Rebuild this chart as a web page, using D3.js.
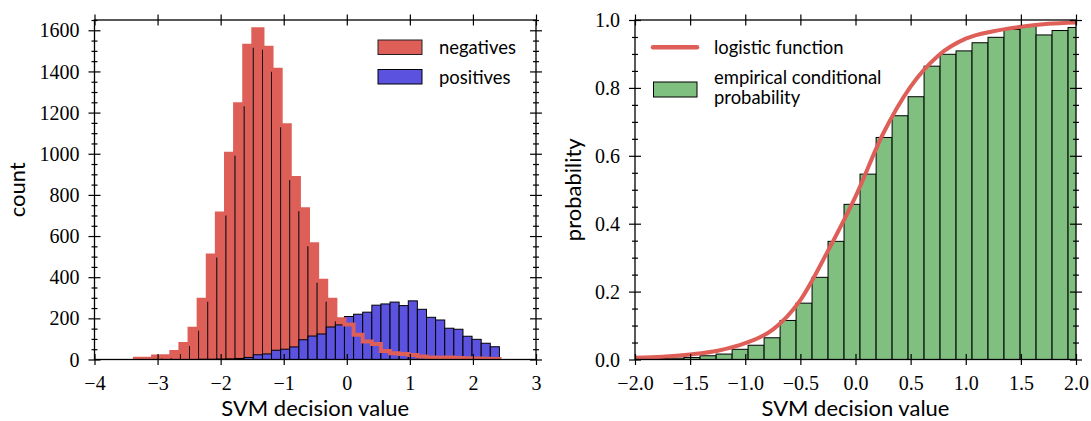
<!DOCTYPE html>
<html><head><meta charset="utf-8">
<script src="https://cdn.jsdelivr.net/npm/d3@7"></script>
<style>body{margin:0;background:#fff}svg{display:block}</style>
</head><body>
<svg id="chart" width="1091" height="421"></svg>
<script>
// ---------- data ----------
const histBinEdges = [-3.360,-3.216,-3.071,-2.927,-2.782,-2.638,-2.493,-2.349,-2.204,-2.060,-1.915,-1.771,-1.626,-1.482,-1.337,-1.193,-1.048,-0.904,-0.759,-0.615,-0.470,-0.326,-0.181,-0.037,0.108,0.252,0.397,0.541,0.686,0.830,0.975,1.119,1.264,1.408,1.553,1.697,1.842,1.986,2.131,2.275,2.420];
const negativeCounts = [4,4,14,16,36,75,150,290,505,710,1000,1240,1525,1605,1515,1408,1138,882,730,560,383,290,196,170,120,87,75,41,30,27,22,15,10,8,10,7,6,5,4,3];
const positiveCounts = [0,0,0,0,0,0,0,1,1,2,3,5,10,23,27,45,50,61,96,114,124,158,168,209,220,230,264,270,279,262,285,244,205,192,152,147,113,98,79,62];
const probBinEdges = [-1.990,-1.845,-1.700,-1.555,-1.410,-1.264,-1.119,-0.974,-0.829,-0.684,-0.539,-0.394,-0.249,-0.104,0.041,0.187,0.332,0.477,0.622,0.767,0.912,1.057,1.202,1.347,1.493,1.638,1.783,1.928,2.073];
const empiricalProb = [0.002,0.003,0.004,0.006,0.011,0.016,0.030,0.042,0.064,0.115,0.166,0.242,0.348,0.457,0.546,0.654,0.718,0.774,0.864,0.899,0.909,0.933,0.949,0.972,0.981,0.956,0.969,0.978];
const logisticX = [-2.0,-1.75,-1.5,-1.25,-1.0,-0.75,-0.5,-0.25,0.0,0.25,0.5,0.75,1.0,1.25,1.5,1.75,2.0];
const logisticP = [0.005,0.008,0.015,0.026,0.048,0.088,0.175,0.32,0.48,0.665,0.804,0.895,0.945,0.967,0.98,0.989,0.993];
const leftXTicks = [-4,-3,-2,-1,0,1,2,3];
const leftYTicks = [0,200,400,600,800,1000,1200,1400,1600];
const leftYMinor = [50,100,150,250,300,350,450,500,550,650,700,750,850,900,950,1050,1100,1150,1250,1300,1350,1450,1500,1550,1650];
const rightXTicks = [-2,-1.5,-1,-0.5,0,0.5,1,1.5,2];
const rightYTicks = [0,0.2,0.4,0.6,0.8,1.0];
const rightYMinor = [0.05,0.1,0.15,0.25,0.3,0.35,0.45,0.5,0.55,0.65,0.7,0.75,0.85,0.9,0.95];
const legendLeft = ["negatives","positives"];
const legendRight = ["logistic function","empirical conditional","probability"];

// ---------- setup ----------
const RED = "#dd5f58", BLUE = "#5b52df", GREEN = "#7fbf7f";
const SANS = "Lato, 'Open Sans', sans-serif";
const SERIF = "'Liberation Serif', 'DejaVu Serif', serif";
const svg = d3.select("#chart");
svg.append("rect").attr("width",1091).attr("height",421).attr("fill","#fff");

const L = {x0:94.5, x1:536, y0:20, y1:359.5};
const R = {x0:635, x1:1076, y0:20, y1:359.5};
const xL = d3.scaleLinear().domain([-4,3]).range([L.x0,L.x1]);
const yL = d3.scaleLinear().domain([0,1650]).range([L.y1,L.y0]);
const xR = d3.scaleLinear().domain([-2,2]).range([R.x0,R.x1]);
const yR = d3.scaleLinear().domain([0,1]).range([R.y1,R.y0]);

const defs = svg.append("defs");
defs.append("clipPath").attr("id","clipL").append("rect")
  .attr("x",L.x0).attr("y",L.y0).attr("width",L.x1-L.x0).attr("height",L.y1-L.y0);
defs.append("clipPath").attr("id","clipR").append("rect")
  .attr("x",R.x0).attr("y",R.y0).attr("width",R.x1-R.x0).attr("height",R.y1-R.y0);

const minus = s => String(s).replace("-","\u2212");

// ---------- left panel ----------
const gL = svg.append("g").attr("clip-path","url(#clipL)");
const negBins = negativeCounts.map((c,i)=>({x0:histBinEdges[i],x1:histBinEdges[i+1],c}));
const posBins = positiveCounts.map((c,i)=>({x0:histBinEdges[i],x1:histBinEdges[i+1],c})).filter(d=>d.c>0);

gL.selectAll("rect.neg").data(negBins).join("rect").attr("class","neg")
  .attr("x",d=>xL(d.x0)).attr("width",d=>xL(d.x1)-xL(d.x0))
  .attr("y",d=>yL(d.c)).attr("height",d=>yL(0)-yL(d.c))
  .attr("fill",RED).attr("stroke","#111").attr("stroke-width",0.9);

gL.selectAll("rect.pos").data(posBins).join("rect").attr("class","pos")
  .attr("x",d=>xL(d.x0)).attr("width",d=>xL(d.x1)-xL(d.x0))
  .attr("y",d=>yL(d.c)).attr("height",d=>yL(0)-yL(d.c))
  .attr("fill",BLUE).attr("stroke","#000").attr("stroke-width",1);

// negatives outline (step) drawn on top
const stepPts = [[histBinEdges[0],0]];
negativeCounts.forEach((c,i)=>{ stepPts.push([histBinEdges[i],c]); stepPts.push([histBinEdges[i+1],c]); });
stepPts.push([histBinEdges[histBinEdges.length-1],0]);
gL.append("path").datum(stepPts)
  .attr("d", d3.line().x(d=>xL(d[0])).y(d=>yL(d[1])))
  .attr("fill","none").attr("stroke",RED).attr("stroke-width",4).attr("stroke-linejoin","miter");

// ---------- right panel ----------
const gR = svg.append("g").attr("clip-path","url(#clipR)");
const probBins = empiricalProb.map((p,i)=>({x0:probBinEdges[i],x1:probBinEdges[i+1],p}));
gR.selectAll("rect.prob").data(probBins).join("rect").attr("class","prob")
  .attr("x",d=>xR(d.x0)).attr("width",d=>xR(d.x1)-xR(d.x0))
  .attr("y",d=>yR(d.p)).attr("height",d=>yR(0)-yR(d.p))
  .attr("fill",GREEN).attr("stroke","#000").attr("stroke-width",1);
gR.append("path").datum(logisticX.map((x,i)=>[x,logisticP[i]]))
  .attr("d", d3.line().x(d=>xR(d[0])).y(d=>yR(d[1])).curve(d3.curveMonotoneX))
  .attr("fill","none").attr("stroke",RED).attr("stroke-width",4);

// ---------- axes ----------
function tickPair(gen, translate, values, size, fmt) {
  const outer = svg.append("g").attr("transform",translate)
    .call(gen.tickValues(values).tickSize(size).tickSizeOuter(0).tickFormat(fmt || (()=>"")));
  const inner = svg.append("g").attr("transform",translate)
    .call(gen.tickValues(values).tickSize(-size).tickSizeOuter(0).tickFormat(()=>""));
  [outer,inner].forEach(a=>{
    a.select(".domain").remove();
    a.selectAll("line").attr("stroke","#000").attr("stroke-width",1.2);
    a.attr("font-family",null).attr("font-size",null);
  });
  return outer;
}
function frame(P){
  svg.append("rect").attr("x",P.x0).attr("y",P.y0).attr("width",P.x1-P.x0).attr("height",P.y1-P.y0)
    .attr("fill","none").attr("stroke","#000").attr("stroke-width",1.3);
}
function styleLabels(a, kind){
  a.selectAll("text").attr("font-family",SERIF).attr("font-size",20).attr("fill","#000");
  if(kind==="bottom") a.selectAll("text").attr("y",30).attr("dy",0);
  if(kind==="left") a.selectAll("text").attr("x",-15).attr("dy","0.33em");
}

// Left panel axes
styleLabels(tickPair(d3.axisBottom(xL), `translate(0,${L.y1})`, leftXTicks, 5.5, d=>minus(d)), "bottom");
tickPair(d3.axisTop(xL), `translate(0,${L.y0})`, leftXTicks, 5.5);
styleLabels(tickPair(d3.axisLeft(yL), `translate(${L.x0},0)`, leftYTicks, 6, d=>d), "left");
tickPair(d3.axisLeft(yL), `translate(${L.x0},0)`, leftYMinor, 3);
tickPair(d3.axisRight(yL), `translate(${L.x1},0)`, leftYTicks, 6);
tickPair(d3.axisRight(yL), `translate(${L.x1},0)`, leftYMinor, 3);
frame(L);

// Right panel axes
styleLabels(tickPair(d3.axisBottom(xR), `translate(0,${R.y1})`, rightXTicks, 5.5, d=>minus(d3.format(".1f")(d))), "bottom");
tickPair(d3.axisTop(xR), `translate(0,${R.y0})`, rightXTicks, 5.5);
styleLabels(tickPair(d3.axisLeft(yR), `translate(${R.x0},0)`, rightYTicks, 6, d=>d3.format(".1f")(d)), "left");
tickPair(d3.axisLeft(yR), `translate(${R.x0},0)`, rightYMinor, 3);
tickPair(d3.axisRight(yR), `translate(${R.x1},0)`, rightYTicks, 6);
tickPair(d3.axisRight(yR), `translate(${R.x1},0)`, rightYMinor, 3);
frame(R);

// ---------- titles ----------
function fit(sel, target){
  const w = sel.node().getComputedTextLength();
  const fs = parseFloat(sel.attr("font-size"));
  const nf = fs*target/w; sel.attr("font-size", nf); return nf;
}
const t1 = svg.append("text").attr("x",(L.x0+L.x1)/2).attr("y",416).attr("text-anchor","middle")
  .attr("font-family",SANS).attr("font-size",22).text("SVM decision value");
const titleFs = fit(t1,188);
svg.append("text").attr("x",(R.x0+R.x1)/2).attr("y",416).attr("text-anchor","middle")
  .attr("font-family",SANS).attr("font-size",titleFs).text("SVM decision value");
svg.append("text").attr("transform",`translate(25,${(L.y0+L.y1)/2}) rotate(-90)`).attr("text-anchor","middle")
  .attr("font-family",SANS).attr("font-size",titleFs).text("count");
svg.append("text").attr("transform",`translate(581,${(R.y0+R.y1)/2}) rotate(-90)`).attr("text-anchor","middle")
  .attr("font-family",SANS).attr("font-size",titleFs).text("probability");

// ---------- legends ----------
const lg1 = svg.append("text").attr("x",439).attr("y",54).attr("font-family",SANS).attr("font-size",18).text(legendLeft[0]);
const legFs = fit(lg1,77);
svg.append("rect").attr("x",378).attr("y",40).attr("width",44).attr("height",14.5)
  .attr("fill",RED).attr("stroke","#222").attr("stroke-width",1);
svg.append("rect").attr("x",378).attr("y",69.5).attr("width",44).attr("height",14.5)
  .attr("fill",BLUE).attr("stroke","#000").attr("stroke-width",1);
svg.append("text").attr("x",439).attr("y",84).attr("font-family",SANS).attr("font-size",legFs).text(legendLeft[1]);

svg.append("line").attr("x1",653).attr("x2",697).attr("y1",47.3).attr("y2",47.3)
  .attr("stroke",RED).attr("stroke-width",4.5).attr("stroke-linecap","round");
svg.append("text").attr("x",714).attr("y",53.5).attr("font-family",SANS).attr("font-size",legFs).text(legendRight[0]);
svg.append("rect").attr("x",653.5).attr("y",82).attr("width",43.5).attr("height",15)
  .attr("fill",GREEN).attr("stroke","#000").attr("stroke-width",1);
svg.append("text").attr("x",714).attr("y",84).attr("font-family",SANS).attr("font-size",legFs).text(legendRight[1]);
svg.append("text").attr("x",714).attr("y",104).attr("font-family",SANS).attr("font-size",legFs).text(legendRight[2]);
</script>
</body></html>
